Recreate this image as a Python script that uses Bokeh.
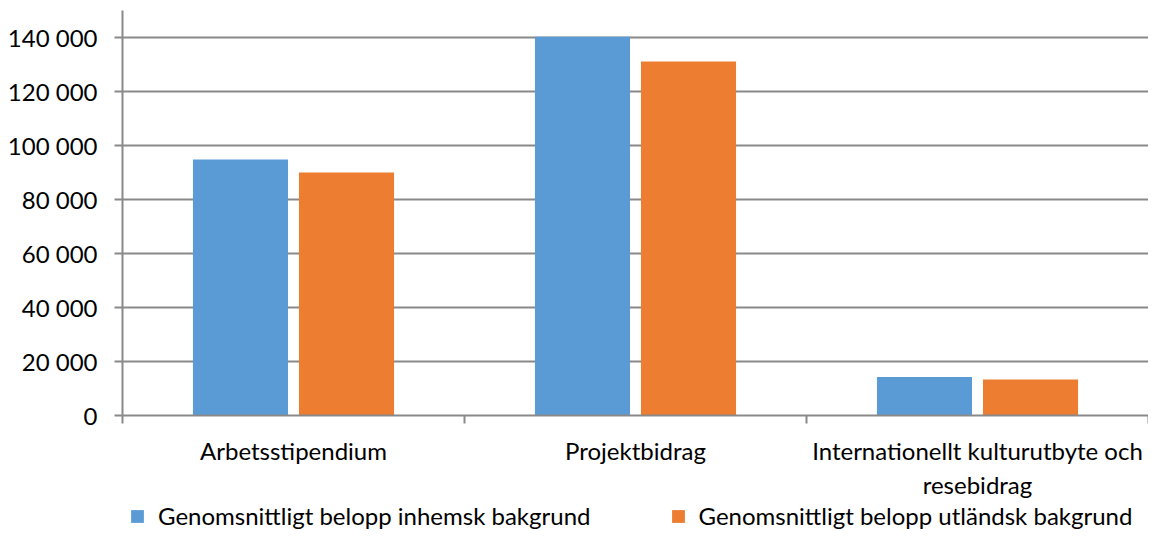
import numpy as np
from bokeh.plotting import figure
from bokeh.layouts import column
from bokeh.models import (ColumnDataSource, Range1d, FixedTicker, Legend, LegendItem)
from bokeh.transform import dodge
from bokeh.embed import file_html
from bokeh.resources import INLINE

categories = ["Arbetsstipendium", "Projektbidrag", "Internationellt kulturutbyte och\nresebidrag"]
inhemsk = [94800, 140300, 14300]
utlandsk = [90000, 131100, 13300]
series_names = ["Genomsnittligt belopp inhemsk bakgrund", "Genomsnittligt belopp utländsk bakgrund"]
y_ticks = [0, 20000, 40000, 60000, 80000, 100000, 120000, 140000]
y_tick_labels = ["0", "20 000", "40 000", "60 000", "80 000", "100 000", "120 000", "140 000"]

FONT = "Lato"
FS = "24px"
BLUE = "#5B9BD5"
ORANGE = "#ED7D31"
GRID = "#898989"

x_centers = np.arange(len(categories)) + 0.5
src = ColumnDataSource(dict(x=x_centers, inhemsk=inhemsk, utlandsk=utlandsk))

p = figure(width=1148, height=502, output_backend="svg", toolbar_location=None,
           x_range=Range1d(0, len(categories)), y_range=Range1d(0, 150000),
           min_border_left=122, min_border_right=0, min_border_top=10, min_border_bottom=84)
p.outline_line_color = None

r1 = p.vbar(x=dodge("x", -0.155, range=p.x_range), top="inhemsk", width=0.278, source=src,
            fill_color=BLUE, line_color=None)
r2 = p.vbar(x=dodge("x", 0.155, range=p.x_range), top="utlandsk", width=0.278, source=src,
            fill_color=ORANGE, line_color=None)

# y axis
p.yaxis.ticker = FixedTicker(ticks=y_ticks)
p.yaxis.major_label_overrides = {t: l for t, l in zip(y_ticks, y_tick_labels)}
p.yaxis.axis_line_color = GRID
p.yaxis.axis_line_width = 2
p.yaxis.major_tick_line_color = GRID
p.yaxis.major_tick_line_width = 2
p.yaxis.major_tick_out = 8
p.yaxis.major_tick_in = 0
p.yaxis.minor_tick_line_color = None
p.yaxis.major_label_standoff = 17
p.yaxis.major_label_text_font = FONT
p.yaxis.major_label_text_font_size = FS
p.yaxis.major_label_text_color = "#000000"

# x axis
p.xaxis.ticker = FixedTicker(ticks=list(x_centers), minor_ticks=list(range(len(categories) + 1)))
p.xaxis.major_label_overrides = {float(c): lab for c, lab in zip(x_centers, categories)}
p.xaxis.axis_line_color = GRID
p.xaxis.axis_line_width = 2
p.xaxis.major_tick_line_color = None
p.xaxis.major_tick_out = 0
p.xaxis.major_tick_in = 0
p.xaxis.minor_tick_line_color = GRID
p.xaxis.minor_tick_line_width = 2
p.xaxis.minor_tick_out = 8
p.xaxis.minor_tick_in = 0
p.xaxis.major_label_standoff = 12
p.xaxis.major_label_text_font = FONT
p.xaxis.major_label_text_font_size = FS
p.xaxis.major_label_text_color = "#000000"

p.xgrid.grid_line_color = None
p.ygrid.ticker = FixedTicker(ticks=y_ticks[1:])
p.ygrid.grid_line_color = GRID
p.ygrid.grid_line_width = 2

# legend strip below the chart (zero-width proxy bars lie outside its y range)
lf = figure(width=1148, height=31, output_backend="svg", toolbar_location=None,
            x_range=Range1d(0, len(categories)), y_range=Range1d(1e6, 2e6),
            min_border_left=122, min_border_right=0, min_border_top=0, min_border_bottom=0)
lf.axis.visible = False
lf.grid.grid_line_color = None
lf.outline_line_color = None
l1 = lf.vbar(x="x", top="inhemsk", width=0, source=src, fill_color=BLUE, line_color=None)
l2 = lf.vbar(x="x", top="utlandsk", width=0, source=src, fill_color=ORANGE, line_color=None)
legend = Legend(items=[LegendItem(label=series_names[0], renderers=[l1]),
                       LegendItem(label=series_names[1], renderers=[l2])],
                location=(7, 3), orientation="horizontal", padding=0, margin=0, spacing=79,
                border_line_color=None, background_fill_alpha=0, glyph_width=16, glyph_height=16,
                label_standoff=13, label_text_font=FONT, label_text_font_size=FS,
                label_text_color="#000000", label_height=20)
lf.add_layout(legend)

layout = column(p, lf, spacing=0)
open("out.html", "w").write(file_html(layout, INLINE))
